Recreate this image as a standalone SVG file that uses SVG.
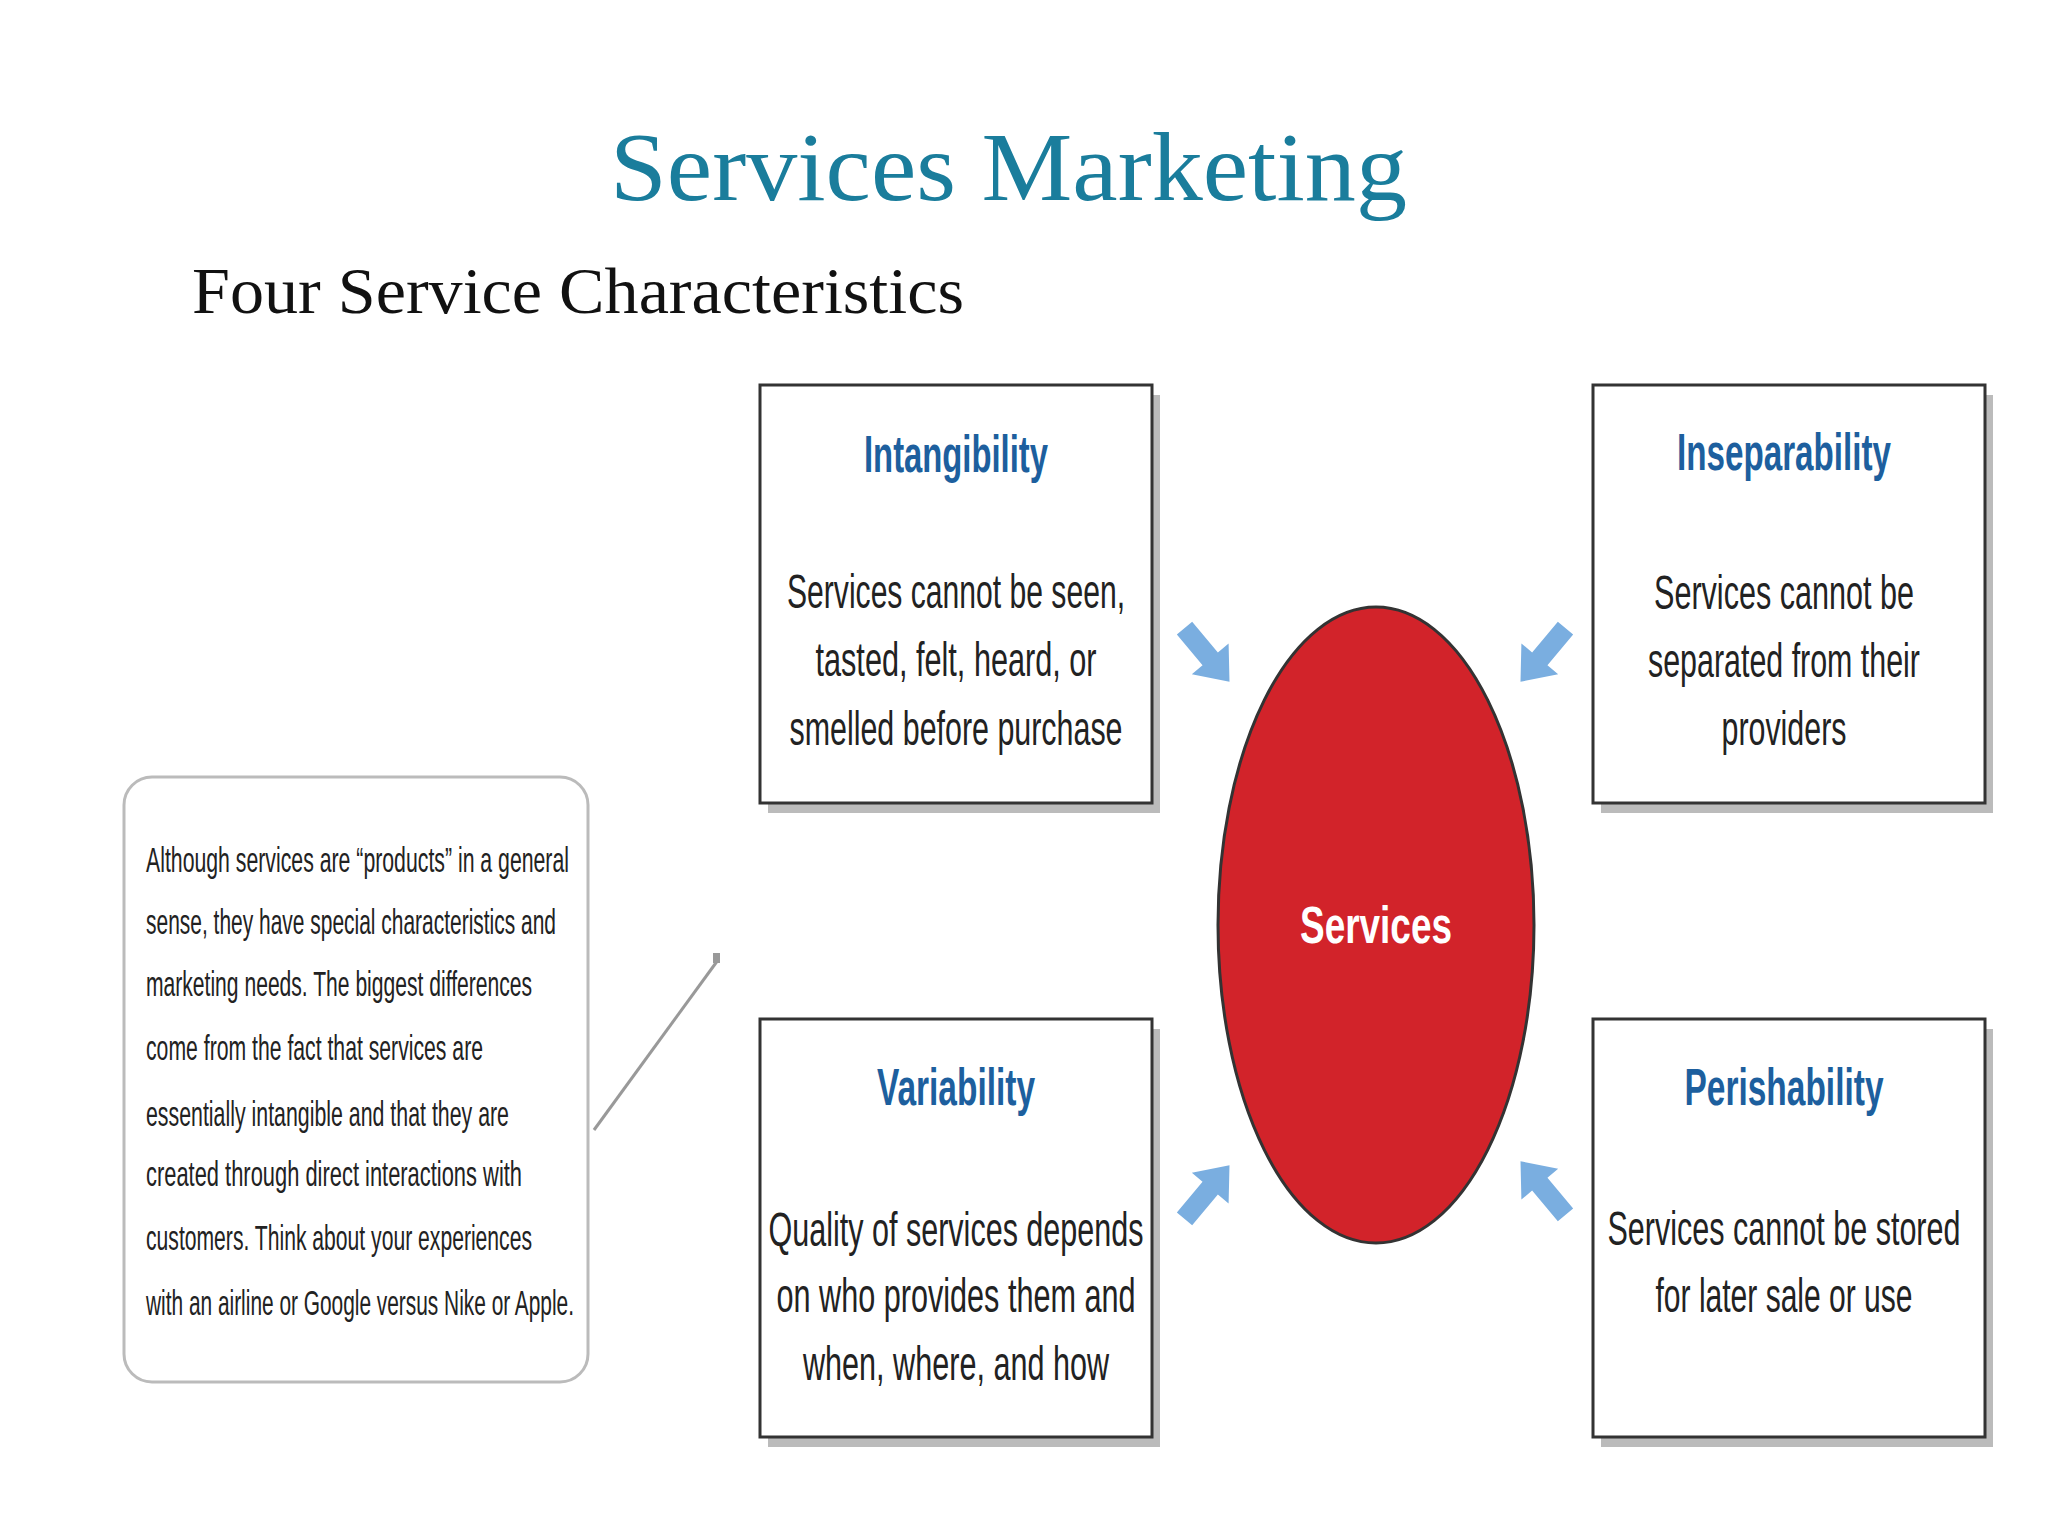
<svg xmlns="http://www.w3.org/2000/svg" width="2048" height="1536" viewBox="0 0 2048 1536">
<style>
.t{font-family:"Liberation Sans",Arial,sans-serif;font-weight:bold;font-size:52px;fill:#1d5f9e;text-anchor:middle}
.b{font-family:"Liberation Sans",Arial,sans-serif;font-size:48px;fill:#222;text-anchor:middle}
.c{font-family:"Liberation Sans",Arial,sans-serif;font-size:35px;fill:#222}
.box{fill:#fff;stroke:#333;stroke-width:3}
.sh{fill:#bbb}
</style>
<defs>
<path id="arr" d="M-35,-10 L5,-10 L5,-24 L35,0 L5,24 L5,10 L-35,10 Z" fill="#7aaee0"/>
</defs>
<rect width="2048" height="1536" fill="#fff"/>
<text x="610" y="200" font-family="Liberation Serif,serif" font-size="98" fill="#1a7d9c" textLength="797" lengthAdjust="spacingAndGlyphs">Services Marketing</text>
<text x="192" y="313" font-family="Liberation Serif,serif" font-size="65" fill="#111" textLength="772" lengthAdjust="spacingAndGlyphs">Four Service Characteristics</text>
<g id="callout">
<rect x="124" y="777" width="464" height="605" rx="28" fill="#fff" stroke="#bbb" stroke-width="3"/>
<text class="c" x="146" y="872" textLength="423" lengthAdjust="spacingAndGlyphs">Although services are “products” in a general</text>
<text class="c" x="146" y="934" textLength="410" lengthAdjust="spacingAndGlyphs">sense, they have special characteristics and</text>
<text class="c" x="146" y="996" textLength="386" lengthAdjust="spacingAndGlyphs">marketing needs. The biggest differences</text>
<text class="c" x="146" y="1060" textLength="337" lengthAdjust="spacingAndGlyphs">come from the fact that services are</text>
<text class="c" x="146" y="1126" textLength="363" lengthAdjust="spacingAndGlyphs">essentially intangible and that they are</text>
<text class="c" x="146" y="1186" textLength="376" lengthAdjust="spacingAndGlyphs">created through direct interactions with</text>
<text class="c" x="146" y="1250" textLength="386" lengthAdjust="spacingAndGlyphs">customers. Think about your experiences</text>
<text class="c" x="146" y="1315" textLength="428" lengthAdjust="spacingAndGlyphs">with an airline or Google versus Nike or Apple.</text>
</g>
<g id="connectors">
<line x1="594" y1="1130" x2="718" y2="960" stroke="#999" stroke-width="3"/>
<rect x="713" y="953" width="7" height="10" fill="#999"/>
<use href="#arr" transform="translate(1207,655) rotate(50)"/>
<use href="#arr" transform="translate(1543,655) rotate(130)"/>
<use href="#arr" transform="translate(1207,1192) rotate(-50)"/>
<use href="#arr" transform="translate(1543,1188) rotate(-130)"/>
</g>
<g id="services">
<ellipse cx="1376" cy="925" rx="158" ry="318" fill="#d2232a" stroke="#333" stroke-width="3"/>
<text x="1376" y="943" font-family="Liberation Sans,Arial,sans-serif" font-weight="bold" font-size="52" fill="#fff" text-anchor="middle" textLength="152" lengthAdjust="spacingAndGlyphs">Services</text>
</g>
<g id="intangibility">
<rect class="sh" x="768" y="395" width="392" height="418"/>
<rect class="box" x="760" y="385" width="392" height="418"/>
<text class="t" x="956" y="472" textLength="184" lengthAdjust="spacingAndGlyphs">Intangibility</text>
<text class="b" x="956" y="608" textLength="338" lengthAdjust="spacingAndGlyphs">Services cannot be seen,</text>
<text class="b" x="956" y="676" textLength="281" lengthAdjust="spacingAndGlyphs">tasted, felt, heard, or</text>
<text class="b" x="956" y="745" textLength="333" lengthAdjust="spacingAndGlyphs">smelled before purchase</text>
</g>
<g id="inseparability">
<rect class="sh" x="1601" y="395" width="392" height="418"/>
<rect class="box" x="1593" y="385" width="392" height="418"/>
<text class="t" x="1784" y="470" textLength="214" lengthAdjust="spacingAndGlyphs">Inseparability</text>
<text class="b" x="1784" y="609" textLength="260" lengthAdjust="spacingAndGlyphs">Services cannot be</text>
<text class="b" x="1784" y="677" textLength="272" lengthAdjust="spacingAndGlyphs">separated from their</text>
<text class="b" x="1784" y="745" textLength="125" lengthAdjust="spacingAndGlyphs">providers</text>
</g>
<g id="variability">
<rect class="sh" x="768" y="1029" width="392" height="418"/>
<rect class="box" x="760" y="1019" width="392" height="418"/>
<text class="t" x="956" y="1105" textLength="158" lengthAdjust="spacingAndGlyphs">Variability</text>
<text class="b" x="956" y="1246" textLength="375" lengthAdjust="spacingAndGlyphs">Quality of services depends</text>
<text class="b" x="956" y="1312" textLength="359" lengthAdjust="spacingAndGlyphs">on who provides them and</text>
<text class="b" x="956" y="1380" textLength="306" lengthAdjust="spacingAndGlyphs">when, where, and how</text>
</g>
<g id="perishability">
<rect class="sh" x="1601" y="1029" width="392" height="418"/>
<rect class="box" x="1593" y="1019" width="392" height="418"/>
<text class="t" x="1784" y="1105" textLength="199" lengthAdjust="spacingAndGlyphs">Perishability</text>
<text class="b" x="1784" y="1245" textLength="353" lengthAdjust="spacingAndGlyphs">Services cannot be stored</text>
<text class="b" x="1784" y="1312" textLength="257" lengthAdjust="spacingAndGlyphs">for later sale or use</text>
</g>
</svg>
